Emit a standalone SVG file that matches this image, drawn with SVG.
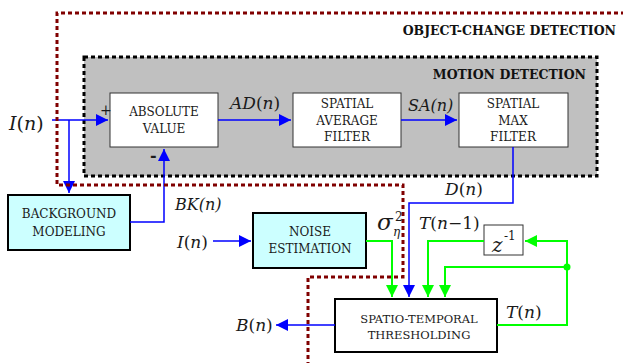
<svg xmlns="http://www.w3.org/2000/svg" width="623" height="363" viewBox="0 0 623 363">
<style>
text{font-family:"DejaVu Serif","Liberation Serif",serif;fill:#1a1a1a}
.bt{font-size:12px;text-anchor:middle}
.title{font-size:12.5px;font-weight:bold;text-anchor:end;fill:#111}
.m{font-size:17px}
.i{font-style:italic}
.box{fill:#fff;stroke:#333;stroke-width:1}
.cbox{fill:#ccffff;stroke:#000;stroke-width:2}
.tbox{fill:#fff;stroke:#000;stroke-width:2}
.b{fill:none;stroke:#0000ff;stroke-width:1.5}
.g{fill:none;stroke:#00ff00;stroke-width:2}
</style>
<defs>
<marker id="ab" markerUnits="userSpaceOnUse" markerWidth="14" markerHeight="14" refX="12" refY="6" orient="auto">
<path d="M0,0 L12,6 L0,12 z" fill="#0000ff"/>
</marker>
<marker id="ag" markerUnits="userSpaceOnUse" markerWidth="14" markerHeight="14" refX="12" refY="6" orient="auto">
<path d="M0,0 L12,6 L0,12 z" fill="#00ff00"/>
</marker>
</defs>

<g id="motion-detection-region">
<rect x="84" y="57" width="513" height="119" fill="#c0c0c0" stroke="#000" stroke-width="3" stroke-dasharray="4 3"/>
<text class="title" x="586" y="79">MOTION DETECTION</text>
</g>

<g id="absolute-value">
<rect class="box" x="110" y="93" width="108" height="54"/>
<text class="bt" x="164" y="116">ABSOLUTE</text>
<text class="bt" x="164" y="133">VALUE</text>
</g>
<g id="spatial-average-filter">
<rect class="box" x="293" y="93" width="108" height="54"/>
<text class="bt" x="347" y="108">SPATIAL</text>
<text class="bt" x="347" y="125">AVERAGE</text>
<text class="bt" x="347" y="141">FILTER</text>
</g>
<g id="spatial-max-filter">
<rect class="box" x="459" y="93" width="109" height="54"/>
<text class="bt" x="513" y="108">SPATIAL</text>
<text class="bt" x="513" y="125">MAX</text>
<text class="bt" x="513" y="141">FILTER</text>
</g>
<g id="background-modeling">
<rect class="cbox" x="8" y="195" width="122" height="55"/>
<text class="bt" x="69" y="218">BACKGROUND</text>
<text class="bt" x="69" y="236">MODELING</text>
</g>
<g id="noise-estimation">
<rect class="cbox" x="253" y="213" width="113" height="55"/>
<text class="bt" x="310" y="236">NOISE</text>
<text class="bt" x="310" y="253">ESTIMATION</text>
</g>
<g id="spatio-temporal-thresholding">
<rect class="tbox" x="335" y="299" width="162" height="53"/>
<text class="bt" x="419" y="323" style="font-size:11.5px">SPATIO-TEMPORAL</text>
<text class="bt" x="419" y="339" style="font-size:11.5px">THRESHOLDING</text>
</g>
<g id="delay">
<rect class="box" x="484" y="225" width="39" height="30" stroke="#555"/>
<text x="492" y="252" style="font-size:20px;font-style:italic">z</text>
<text x="504" y="240" style="font-size:12px">-1</text>
</g>

<g id="connectors">
<path class="b" d="M52,120 H108" marker-end="url(#ab)"/>
<path class="b" d="M69,120 V193" marker-end="url(#ab)"/>
<path class="b" d="M218,120 H291" marker-end="url(#ab)"/>
<path class="b" d="M401,120 H457" marker-end="url(#ab)"/>
<path class="b" d="M130,222 H164 V149" marker-end="url(#ab)"/>
<path class="b" d="M513,147 V203 H409 V297" marker-end="url(#ab)"/>
<path class="b" d="M213,241 H251" marker-end="url(#ab)"/>
<path class="b" d="M335,325 H276" marker-end="url(#ab)"/>
<path class="g" d="M366,241 H392 V297" marker-end="url(#ag)"/>
<path class="g" d="M484,241 H428 V297" marker-end="url(#ag)"/>
<path class="g" d="M497,325 H567 V241 H525" marker-end="url(#ag)"/>
<path class="g" d="M567,267 H445 V297" marker-end="url(#ag)"/>
<circle cx="567" cy="267" r="3.5" fill="#00ff00"/>
</g>

<g id="object-change-detection-region">
<path d="M625,13 H57 V185 H403 V277 H308 V365" fill="none" stroke="#800000" stroke-width="3" stroke-dasharray="4 3"/>
<text class="title" x="616" y="35">OBJECT-CHANGE DETECTION</text>
</g>

<g id="labels">
<text class="m" x="9" y="130" style="font-size:19px"><tspan class="i">I</tspan>(<tspan class="i">n</tspan>)</text>
<text x="100" y="115" style="font-size:14px">+</text>
<text x="150" y="161" style="font-size:16px;font-weight:bold">-</text>
<text class="m i" x="230" y="109">AD<tspan font-style="normal">(</tspan>n<tspan font-style="normal">)</tspan></text>
<text class="m i" x="408" y="111" style="font-size:16px">SA(n)</text>
<text class="m i" x="175" y="210" style="font-size:16px">BK(n)</text>
<text class="m" x="177" y="248"><tspan class="i">I</tspan>(<tspan class="i">n</tspan>)</text>
<text class="m" x="236" y="331"><tspan class="i">B</tspan>(<tspan class="i">n</tspan>)</text>
<text class="m" x="445" y="195"><tspan class="i">D</tspan>(<tspan class="i">n</tspan>)</text>
<text class="m" x="419" y="229"><tspan class="i">T</tspan>(<tspan class="i">n</tspan>−1)</text>
<text class="m" x="506" y="318"><tspan class="i">T</tspan>(<tspan class="i">n</tspan>)</text>
<text x="377" y="230" style="font-size:23px;font-style:italic">σ</text>
<text x="395" y="221" style="font-size:12px">2</text>
<text x="393" y="236" style="font-size:12px;font-style:italic">η</text>
</g>
</svg>
